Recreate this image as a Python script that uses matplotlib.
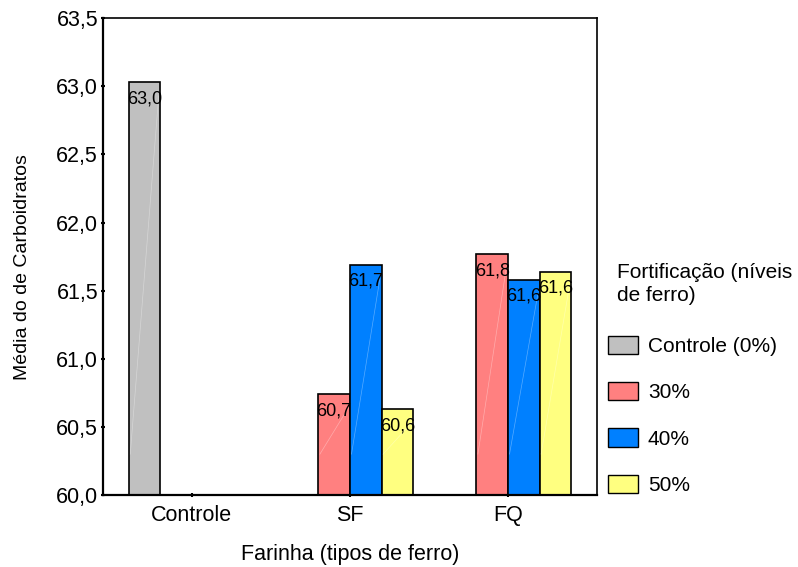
import matplotlib
matplotlib.use("Agg")
import matplotlib.pyplot as plt
import numpy as np
from matplotlib.patches import Patch

plt.rcParams['font.family'] = ['Liberation Sans', 'DejaVu Sans']

categories = ["Controle", "SF", "FQ"]
series_names = ["Controle (0%)", "30%", "40%", "50%"]
colors = ["#c0c0c0", "#ff8080", "#0080ff", "#ffff80"]
# values per series (None = no bar)
values = {
    "Controle (0%)": [63.03, None, None],
    "30%": [None, 60.74, 61.77],
    "40%": [None, 61.69, 61.58],
    "50%": [None, 60.63, 61.64],
}
labels = {
    "Controle (0%)": ["63,0", None, None],
    "30%": [None, "60,7", "61,8"],
    "40%": [None, "61,7", "61,6"],
    "50%": [None, "60,6", "61,6"],
}
yticks = [60.0, 60.5, 61.0, 61.5, 62.0, 62.5, 63.0, 63.5]
ytick_labels = ["60,0", "60,5", "61,0", "61,5", "62,0", "62,5", "63,0", "63,5"]
legend_title = "Fortificação (níveis\nde ferro)"

fig = plt.figure(figsize=(7.98, 5.67), dpi=100)
ax = fig.add_axes([0.129, 0.127, 0.619, 0.841])

x = np.arange(len(categories))
w = 0.2
base = 60.0
for i, name in enumerate(series_names):
    offs = (i - 1.5) * w
    for j, v in enumerate(values[name]):
        if v is None:
            continue
        bars = ax.bar(x[j] + offs, v - base, bottom=base, width=w,
                      color=colors[i], edgecolor="black", linewidth=1.2, zorder=2)
        for b in bars:
            x0 = b.get_x(); x1 = x0 + b.get_width()
            ax.plot([x0 + 0.01, x1 - 0.01], [base + 0.3, v - 0.1], color="white",
                    lw=0.5, alpha=0.35, zorder=3)
        ax.text(x[j] + offs, v - 0.06, labels[name][j], ha="center", va="top",
                fontsize=13, zorder=4)

ax.set_xlim(-0.563, 2.563)
ax.set_ylim(60.0, 63.5)
ax.set_xticks(x)
ax.set_xticklabels(categories, fontsize=15.5)
ax.set_yticks(yticks)
ax.set_yticklabels(ytick_labels, fontsize=15.5)
ax.tick_params(axis='both', direction='inout', length=3, width=1.5)
ax.tick_params(axis='x', pad=6)
ax.tick_params(axis='y', pad=2)
for s in ax.spines.values():
    s.set_linewidth(1.2)
ax.spines['left'].set_linewidth(1.6)
ax.spines['bottom'].set_linewidth(1.6)

ax.set_xlabel("Farinha (tipos de ferro)", fontsize=15.5, labelpad=13)
ax.set_ylabel("Média do de Carboidratos", fontsize=14)
ax.yaxis.set_label_coords(-0.146, 0.478)

fig.text(617 / 798, 1 - 263 / 567, legend_title, fontsize=15, ha="left", va="top",
         linespacing=1.25)
handles = [Patch(facecolor=c, edgecolor="black", linewidth=1.0) for c in colors]
leg = fig.legend(handles, series_names, loc="upper left",
                 bbox_to_anchor=(608 / 798, 1 - 336 / 567),
                 frameon=False, fontsize=15, handlelength=1.44, handleheight=0.96,
                 labelspacing=1.25, handletextpad=0.48, borderpad=0.0,
                 borderaxespad=0.0)

fig.savefig("out.png", dpi=100)
